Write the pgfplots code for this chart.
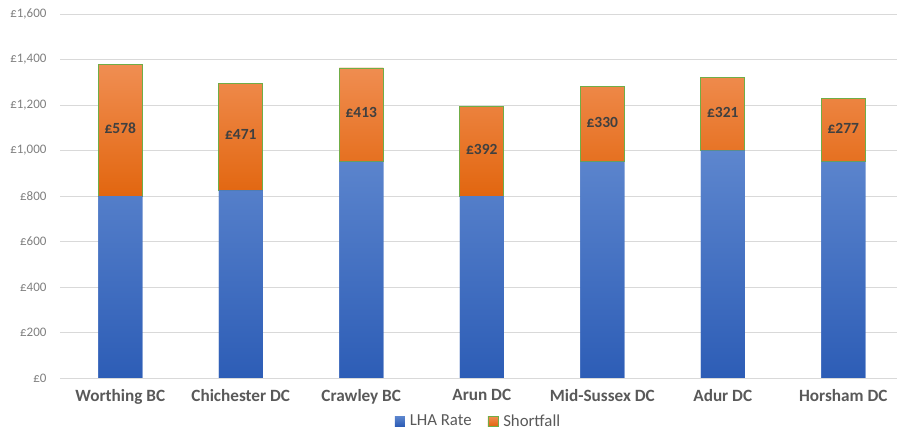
\documentclass[border=0pt]{standalone}
\usepackage{pgfplots}
\usepackage{pgfplotstable}
\pgfplotsset{compat=1.18}
\usepackage{fontspec}
\setmainfont{Carlito}

\definecolor{gridgray}{HTML}{D9D9D9}
\definecolor{ticktext}{HTML}{7F7F7F}
\definecolor{cattext}{HTML}{595959}
\definecolor{labeltext}{HTML}{404040}
\definecolor{blueTop}{HTML}{5D86CE}
\definecolor{blueBot}{HTML}{2D5DB6}
\definecolor{orangeTop}{HTML}{F08E52}
\definecolor{orangeBot}{HTML}{E2660F}
\definecolor{blueKey}{HTML}{4472C4}
\definecolor{orangeKey}{HTML}{ED7D31}
\definecolor{edgegreen}{HTML}{70AD47}

% monthly LHA rate and shortfall by local authority
\pgfplotstableread{
idx lha short
0 800 578
1 825 471
2 950 413
3 800 392
4 950 330
5 1000 321
6 950 277
}\rents

\begin{document}
\begin{tikzpicture}
\path[use as bounding box] (0,0) rectangle (897pt,432pt);
\begin{axis}[
  at={(60pt,54pt)}, anchor=south west,
  scale only axis,
  width=837pt, height=364pt,
  ybar stacked,
  bar width=44pt,
  xmin=-0.5, xmax=6.446,
  ymin=0, ymax=1600,
  ytick={0,200,...,1600},
  xtick=data,
  xticklabels={Worthing BC,Chichester DC,Crawley BC,Arun DC,Mid-Sussex DC,Adur DC,Horsham DC},
  ymajorgrids,
  grid style={gridgray, line width=0.8pt},
  axis line style={draw=none},
  major tick length=0pt,
  yticklabel={£\pgfmathprintnumber{\tick}},
  /pgf/number format/.cd, assume math mode=true, 1000 sep={,}, fixed, precision=0,
  /pgfplots/.cd,
  yticklabel style={font=\fontsize{13}{15}\selectfont, text=ticktext, xshift=-10pt},
  xticklabel style={font=\fontsize{17.2}{19}\selectfont\bfseries, text=cattext, yshift=-8pt},
  legend style={at={(0.5,-43pt)}, anchor=center, draw=none, fill=none,
    legend columns=2, font=\fontsize{16.8}{18}\selectfont, text=cattext,
    /tikz/every odd column/.style={column sep=3pt},
    /tikz/every even column/.style={column sep=14pt}},
  after end axis/.code={\draw[gridgray, line width=0.8pt] (rel axis cs:0,0) -- (rel axis cs:1,0);},
]
\addplot[draw=none, top color=blueTop, bottom color=blueBot, fill=blueBot,
  legend image code/.code={\fill[blueKey] (0pt,-5pt) rectangle (10pt,5pt);}]
  table[x=idx, y=lha] {\rents};
\addlegendentry{LHA Rate}
\addplot[draw=edgegreen, line width=0.8pt, top color=orangeTop, bottom color=orangeBot, fill=orangeBot,
  legend image code/.code={\draw[edgegreen, line width=0.6pt, fill=orangeKey] (0pt,-5pt) rectangle (10pt,5pt);},
  point meta=\thisrow{short},
  nodes near coords={£\pgfmathprintnumber{\pgfplotspointmeta}},
  nodes near coords align={center},
  every node near coord/.append style={anchor=center, yshift=2pt,
    font=\fontsize{15.5}{17}\selectfont\bfseries, text=labeltext}
  ] table[x=idx, y=short] {\rents};
\addlegendentry{Shortfall}
\end{axis}
\end{tikzpicture}
\end{document}
